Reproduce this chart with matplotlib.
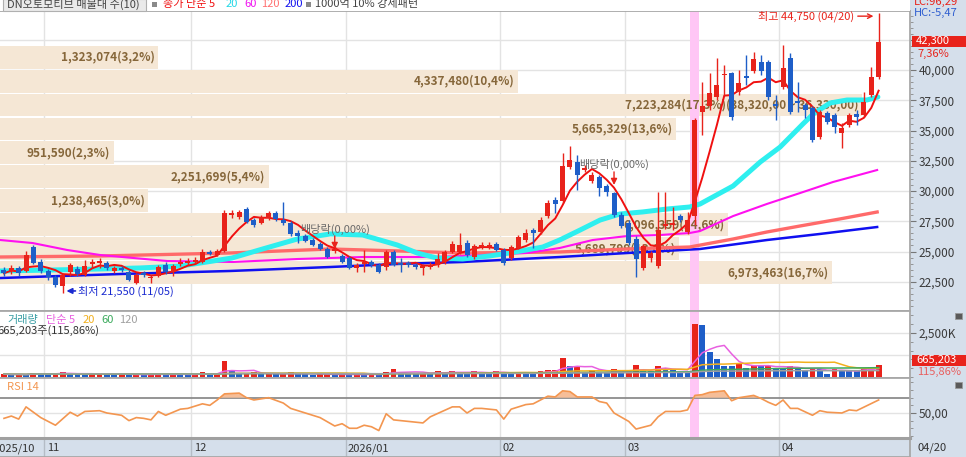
import matplotlib
matplotlib.use("Agg")
import matplotlib.pyplot as plt
from matplotlib.patches import Rectangle
from matplotlib.ticker import MultipleLocator
import numpy as np
import pandas as pd

plt.rcParams['font.family'] = ['Noto Sans CJK KR', 'DejaVu Sans']
plt.rcParams['axes.unicode_minus'] = False

# ---- daily candles (index 0 = 2025-10-24 ... 119 = 2026-04-20) ----
opens = [
    23450, 23400, 23650, 23400, 25350, 24150, 23400, 22900, 22150, 23300,
    23550, 23050, 23950, 24050, 24050, 23400, 23650, 23300, 22400, 23200,
    22800, 22950, 23900, 23300, 23950, 24050, 24150, 24150, 24950, 24700,
    25050, 28000, 27850, 28500, 27600, 27350, 27750, 28200, 27600, 27350,
    26550, 26300, 25950, 25600, 25200, 25050, 24650, 24450, 23650, 23950,
    24150, 23900, 23700, 24950, 24050, 24050, 23900, 23650, 23700, 23900,
    24150, 24950, 24950, 25700, 24550, 25350, 25350, 25600, 25100, 24450,
    25300, 25950, 26800, 26600, 27950, 29250, 29150, 32000, 32400, 31750,
    30850, 31150, 30400, 29850, 28000, 27350, 26050, 23650, 24450, 23800,
    27100, 27200, 27950, 26600, 27950, 36550, 37050, 37750, 39600, 39750,
    38200, 39500, 39900, 40650, 40650, 37200, 38600, 41000, 37450, 37100,
    36850, 34450, 36450, 36300, 34800, 35450, 36350, 36300, 37950, 39400]
highs = [
    23700, 23900, 23800, 25050, 25550, 24400, 23550, 23050, 23200, 24050,
    23800, 24300, 24400, 24450, 24200, 23800, 23800, 23450, 23200, 23400,
    23050, 23900, 24150, 23950, 24450, 24450, 24550, 25200, 25150, 25200,
    28450, 28450, 28450, 28700, 27750, 28000, 28350, 28350, 29100, 27500,
    26800, 26450, 26100, 25800, 25350, 25450, 24800, 24650, 24050, 25100,
    24300, 24050, 25100, 25100, 24450, 24200, 24050, 23950, 24150, 24900,
    25100, 25850, 26550, 25950, 25600, 25800, 25800, 25800, 25300, 25550,
    26350, 26850, 26950, 27850, 29250, 29500, 33150, 33700, 33000, 32150,
    31550, 31300, 30600, 29950, 28250, 27600, 26300, 25600, 25050, 29900,
    29900, 28700, 28100, 28250, 36050, 39000, 39750, 41000, 40400, 39850,
    40000, 41250, 41500, 41250, 40850, 37950, 42050, 41400, 39000, 37250,
    37000, 36700, 36600, 36450, 35600, 36450, 36700, 38200, 40250, 44750]
lows = [
    22950, 23150, 22950, 23300, 23950, 23200, 22650, 22050, 21550, 22950,
    22950, 22950, 23650, 23650, 23450, 23200, 23300, 22550, 22300, 22900,
    22400, 22900, 23150, 22950, 23800, 23900, 23950, 24050, 24700, 24650,
    24950, 27750, 27700, 27350, 27050, 27250, 27600, 27500, 27200, 26300,
    25700, 25800, 25450, 25100, 24450, 24900, 24050, 23550, 23300, 23300,
    23700, 23200, 23450, 23800, 23300, 23700, 23550, 23050, 23550, 23700,
    23950, 24900, 24800, 24550, 24400, 25200, 25200, 25050, 23900, 24300,
    25200, 25800, 25300, 26450, 27750, 28200, 29000, 31800, 30100, 31550,
    30650, 29600, 29600, 27850, 26950, 25550, 22900, 23450, 24150, 23650,
    26850, 26800, 27450, 26450, 27200, 34650, 36700, 37500, 37950, 35850,
    37950, 38750, 39750, 39600, 37500, 35850, 38450, 36350, 36550, 36050,
    34050, 34300, 35550, 34800, 33550, 35300, 35450, 36100, 37750, 39250]
closes = [
    23200, 23650, 23200, 24700, 24050, 23400, 22900, 22250, 23050, 23900,
    23150, 23800, 24150, 24200, 23650, 23650, 23450, 22650, 23050, 23050,
    22900, 23700, 23300, 23800, 24150, 24200, 24300, 24950, 24800, 25050,
    28200, 28200, 28250, 27450, 27200, 27850, 28200, 27700, 27350, 26450,
    26300, 25850, 25550, 25200, 24550, 25200, 24150, 23650, 23900, 24150,
    23900, 23300, 24950, 23900, 23900, 23900, 23700, 23800, 23900, 24400,
    24950, 25600, 25550, 24700, 25450, 25550, 25550, 25100, 24050, 25350,
    26200, 26550, 26550, 27600, 29000, 28950, 32050, 32550, 31300, 31900,
    31300, 30250, 29900, 28000, 27100, 25700, 24400, 25450, 24900, 26800,
    27250, 27350, 27600, 27600, 35850, 37050, 38100, 38750, 39650, 36100,
    38950, 39350, 40900, 39900, 37750, 37050, 40150, 36550, 37250, 36700,
    34200, 36550, 35700, 35300, 35200, 36300, 36100, 37350, 39400, 42300]
volumes = [
    160000, 140000, 150000, 130000, 230000, 220000, 150000, 170000, 280000, 200000,
    150000, 140000, 160000, 230000, 150000, 130000, 140000, 130000, 160000, 130000,
    150000, 170000, 130000, 160000, 150000, 130000, 160000, 280000, 150000, 180000,
    890000, 330000, 190000, 200000, 280000, 170000, 190000, 150000, 160000, 270000,
    180000, 160000, 140000, 150000, 160000, 130000, 150000, 120000, 150000, 140000,
    160000, 130000, 300000, 480000, 250000, 220000, 200000, 240000, 210000, 320000,
    220000, 330000, 240000, 210000, 330000, 230000, 220000, 360000, 190000, 180000,
    260000, 230000, 220000, 360000, 370000, 380000, 1080000, 600000, 610000, 260000,
    420000, 270000, 260000, 450000, 270000, 280000, 700000, 360000, 350000, 610000,
    510000, 420000, 270000, 230000, 3010000, 2940000, 1400000, 1020000, 610000, 600000,
    800000, 510000, 700000, 610000, 620000, 510000, 500000, 610000, 510000, 320000,
    470000, 450000, 190000, 450000, 360000, 350000, 340000, 470000, 574143, 665203]

# month starts (candle index) and labels
month_idx = [6, 26, 47, 68, 85, 106]
month_lbl = ['11', '12', '2026/01', '02', '03', '04']

# moving averages (index, price)
ma20_i = [-0.5, 6.3, 13, 18.5, 24, 26.7, 31, 35.2, 39.9, 44.4, 48.8, 53.5, 56.2, 58.9, 62.4,
          66, 68.8, 73.3, 75.6, 78.4, 81.1, 83.8, 86.9, 90.2, 93.3, 94.7, 99.2, 102.9, 105.6,
          108.7, 110.1, 112.4, 114.7, 117.4, 118.9]
ma20_v = [23390, 23470, 23555, 23640, 23800, 24050, 24460, 25210, 26030, 26450, 26365, 25540,
          24880, 24460, 24380, 24630, 24880, 25370, 25950, 26780, 27600, 28100, 28270, 28510,
          28680, 28925, 30415, 32400, 33635, 35540, 36365, 37275, 37520, 37520, 37770]
ma60_i = [-0.5, 3.9, 8.6, 13.1, 17.6, 22.2, 31.2, 39.9, 48.8, 58, 62.4, 71.2, 75.6, 80.1,
          84.8, 89.3, 93.3, 94.7, 99.2, 103.8, 108.3, 112.8, 118.8]
ma60_v = [25950, 25700, 25125, 24710, 24465, 24215, 24135, 24380, 24545, 24545, 24630, 24880,
          25290, 25950, 26280, 26365, 26530, 26690, 27930, 28930, 29830, 30745, 31735]
ma120_i = [-0.5, 13.1, 30.7, 44.4, 53.9, 62.4, 75.6, 84.8, 93.3, 99.2, 103.8, 108.3, 113.7, 118.8]
ma120_v = [24547, 24630, 24877, 25208, 25042, 24877, 24960, 25208, 25373, 26034, 26613, 27108,
           27687, 28265]
ma200_i = [-0.5, 15.8, 30.7, 44.4, 53.5, 62.4, 75.6, 84.8, 94.7, 103.8, 111, 118.8]
ma200_v = [22810, 23140, 23390, 23720, 23970, 24135, 24545, 24877, 25208, 25950, 26450, 27025]

# RSI 14
rsi_i = [0, 1, 2, 3, 5, 7, 9, 10, 11, 13, 14, 16, 17, 18, 19, 20, 21, 22, 24, 25, 27, 28, 29,
         30, 32, 33, 34, 36, 38, 39, 40, 43, 45, 46, 47, 48, 49, 50, 51, 52, 53, 54, 57, 58,
         61, 62, 63, 64, 65, 67, 68, 69, 71, 72, 74, 75, 76, 77, 78, 80, 81, 82, 83, 85, 86,
         88, 89, 90, 92, 93, 94, 95, 96, 98, 99, 100, 102, 103, 104, 105, 106, 107, 108, 110,
         111, 112, 114, 115, 116, 119]
rsi_v = [43, 46, 42, 58, 44, 34, 51, 46, 52, 53, 50, 47, 40, 44, 43, 41, 52, 47, 55, 56, 62, 60,
         67, 75, 76, 70, 67, 70, 63, 56, 53, 44, 33, 36, 30, 30, 34, 32, 27, 49, 41, 40, 37, 45,
         58, 58, 50, 56, 56, 54, 42, 55, 61, 62, 72, 71, 79, 78, 71, 71, 65, 63, 50, 39, 29, 34,
         45, 52, 52, 54, 73, 74, 77, 79, 66, 70, 73, 69, 64, 60, 67, 56, 56, 47, 53, 51, 50, 54,
         53, 67]

# volume profile (매물대), top band first
vp_vol = [1323074, 4337480, 7223284, 5665329, 951590, 2251699, 1238465, 6096359, 5689799, 6973463]
vp_top = 42050
vp_step = 1978
vp_range = (38320, 36330)

# ex-dividend markers
exdiv_idx = [45, 83]
exdiv_tip = [25210, 30500]
exdiv_lbl_y = [26860, 32230]

last_pct = 7.36
lc, hc = 96.29, -5.47

UP = '#E8231B'
DN = '#1E5EC8'
PANEL = '#D5DFEB'
GRID = '#E3E3E3'

W, H = 966, 457
fig = plt.figure(figsize=(W / 100, H / 100), dpi=100, facecolor=PANEL)


def box(x0, y0, x1, y1):
    return [x0 / W, 1 - y1 / H, (x1 - x0) / W, (y1 - y0) / H]


def fxy(x, y):
    return x / W, 1 - y / H


ax = fig.add_axes(box(0, 11, 910, 311))
axv = fig.add_axes(box(0, 311, 910, 378))
axr = fig.add_axes(box(0, 378, 910, 438))
axd = fig.add_axes(box(0, 438, 910, 457))

n = len(closes)
idx = np.arange(n)
x_lo, x_hi = -0.544, 123.27
for a in (ax, axv, axr, axd):
    a.set_xlim(x_lo, x_hi)
    a.set_facecolor('white')
    for s in a.spines.values():
        s.set_color('#A8A8A8')
        s.set_linewidth(1.3)
    a.spines['left'].set_visible(False)
    a.tick_params(axis='x', bottom=False, labelbottom=False)
    for m in month_idx:
        a.axvline(m - 0.5, color=GRID if a is not axd else '#B4BCC6', lw=1, zorder=0)

# ---------- price panel ----------
ax.set_ylim(20084, 44876)
pticks = np.arange(22500, 42501, 2500)
for yv in pticks:
    ax.axhline(yv, color=GRID, lw=1, zorder=0)
ax.yaxis.tick_right()
ax.set_yticks(pticks)
# top tick label sits under the last-price box, as in the source chart
ax.set_yticklabels([f'{int(v):,}' if v < 42000 else '' for v in pticks])
ax.yaxis.set_minor_locator(MultipleLocator(500))
ax.tick_params(axis='y', which='major', direction='out', length=4, pad=2,
               labelsize=8.5, color='#777', labelcolor='#3A3A3A')
ax.tick_params(axis='y', which='minor', direction='out', length=2, color='#888')

# volume profile bands
vp_len = np.array(vp_vol) / max(vp_vol) * 117.3
vp_tot = sum(vp_vol)
kmax = int(np.argmax(vp_vol))
for k, v in enumerate(vp_vol):
    yc = vp_top - vp_step * (k + 0.5)
    ax.barh(yc, vp_len[k], left=x_lo, height=vp_step * 0.955, color='#F5E7D5', zorder=1)
    lbl = f'{v:,}({v / vp_tot * 100:.1f}%)'.replace('.', ',')
    if k == kmax:
        lbl += f'({vp_range[0]:,},00 ~ {vp_range[1]:,},00)'
    ax.text(x_lo + vp_len[k] - 0.45, yc, lbl, ha='right', va='center', fontsize=8.5,
            fontweight='bold', color='#86673A', zorder=2)

for a in (ax, axv, axr):
    a.axvspan(93.4, 94.6, color='#FFC6F5', zorder=1.5, lw=0)

# moving averages
ma5 = pd.Series(closes).rolling(5, min_periods=1).mean()
ax.plot(ma200_i, ma200_v, color='#1010F0', lw=1.8, zorder=3)
ax.plot(ma120_i, ma120_v, color='#FF6A6A', lw=2.4, zorder=3)
ax.plot(ma60_i, ma60_v, color='#FF10F0', lw=1.5, zorder=3)
ax.plot(ma20_i, ma20_v, color='#2EEFEF', lw=3.6, zorder=3, solid_capstyle='round')
ax.plot(idx, ma5, color='#F01010', lw=1.4, zorder=3)

# candles
o = np.array(opens); c = np.array(closes); hi = np.array(highs); lo = np.array(lows)
cols = np.where(c >= o, UP, DN)
ax.vlines(idx, lo, hi, colors=cols, lw=1, zorder=5)
ax.bar(idx, np.maximum(np.abs(c - o), 60), bottom=np.minimum(o, c), width=0.68,
       color=cols, lw=0, zorder=6)

# ex-dividend markers
for i, tip, ly in zip(exdiv_idx, exdiv_tip, exdiv_lbl_y):
    ax.annotate('', xy=(i, tip), xytext=(i, tip + 1080),
                arrowprops=dict(arrowstyle='-|>', color=UP, lw=1, mutation_scale=9,
                                shrinkA=0, shrinkB=0), zorder=7)
    ax.text(i, ly, '배당락(0,00%)', ha='center', va='center', fontsize=8, color='#6A6A6A', zorder=7)

# high / low notes
imax = int(np.argmax(highs)); imin = int(np.argmin(lows))
ax.annotate(f'최고 {max(highs):,} (04/20)', xy=(imax - 0.7, max(highs) - 300),
            xytext=(imax - 3.4, max(highs) - 300), ha='right', va='center', fontsize=8,
            color=UP, arrowprops=dict(arrowstyle='->', color=UP, lw=1, shrinkA=1, shrinkB=0),
            zorder=8)
ax.annotate(f'최저 {min(lows):,} (11/05)', xy=(imin + 0.5, min(lows) + 190),
            xytext=(imin + 2.1, min(lows) + 190), ha='left', va='center', fontsize=8,
            color='#1A2AD0', arrowprops=dict(arrowstyle='-|>', color='#1A2AD0', lw=1.2,
                                             mutation_scale=8, shrinkA=0, shrinkB=0),
            zorder=8)

# ---------- volume panel ----------
axv.set_ylim(-57000, 3750000)
for yv in (1250000, 2500000):
    axv.axhline(yv, color=GRID, lw=1, zorder=0)
vol = np.array(volumes)
vcols = [UP] + [UP if vol[k] >= vol[k - 1] else DN for k in range(1, n)]
axv.bar(idx, vol, width=0.8, color=vcols, lw=0, zorder=3)
for w, col in zip([5, 20, 60, 120], ['#E860E0', '#F2B01E', '#3BAA5C', '#A0A0A0']):
    axv.plot(idx, pd.Series(vol).rolling(w, min_periods=1).mean(), color=col, lw=1.1, zorder=4)
axv.yaxis.tick_right()
axv.set_yticks([2500000])
axv.set_yticklabels(['2,500K'])
axv.yaxis.set_minor_locator(MultipleLocator(500000))
axv.tick_params(axis='y', which='major', direction='out', length=4, pad=2,
                labelsize=8.5, color='#777', labelcolor='#3A3A3A')
axv.tick_params(axis='y', which='minor', direction='out', length=2, color='#888')

# ---------- RSI panel ----------
axr.set_ylim(17.3, 95.75)
axr.axhline(50, color=GRID, lw=1, zorder=0)
axr.axhline(70, color='#8C8C8C', lw=1.3, zorder=2)
rv = np.array(rsi_v, dtype=float)
axr.fill_between(rsi_i, 70, rv, where=rv > 70, interpolate=True, color='#F6BE98', lw=0, zorder=2.5)
axr.plot(rsi_i, rv, color='#F39650', lw=1.2, zorder=3)
axr.yaxis.tick_right()
axr.set_yticks([50])
axr.set_yticklabels(['50,00'])
axr.yaxis.set_minor_locator(MultipleLocator(10))
axr.tick_params(axis='y', which='major', direction='out', length=4, pad=2,
                labelsize=8.5, color='#777', labelcolor='#3A3A3A')
axr.tick_params(axis='y', which='minor', direction='out', length=2, color='#888')

# ---------- date strip ----------
axd.set_facecolor(PANEL)
axd.set_ylim(0, 1)
axd.set_yticks([])
axd.spines['top'].set_color('#A0A0A0')
axd.spines['top'].set_linewidth(2.2)
for m, lb in zip(month_idx, month_lbl):
    axd.text(m - 0.5 + 0.3, 0.45, lb, ha='left', va='center', fontsize=8, color='#333')
axd.text(-1.4, 0.45, '2025/10', ha='left', va='center', fontsize=8, color='#333')

# ---------- header / side texts ----------
fig.patches.append(Rectangle(fxy(0, 11), 910 / W, 11 / H, transform=fig.transFigure,
                             facecolor='white', edgecolor='none', zorder=0.5))
fig.patches.append(Rectangle(fxy(3, 11), 143 / W, 12 / H, transform=fig.transFigure,
                             facecolor='#EAEAEA', edgecolor='#B0B0B0', lw=0.8, zorder=1))
for xx in (152, 306):
    fig.patches.append(Rectangle(fxy(xx, 7), 5 / W, 5 / H, transform=fig.transFigure,
                                 facecolor='#8A8A8A', edgecolor='none', zorder=1))
hdr = [(7, 'DN오토모티브 매물대 수(10)', '#444'), (163, '종가 단순 5', '#F01010'),
       (226, '20', '#22D8E6'), (244, '60', '#F010F0'), (261, '120', '#FF7070'),
       (285, '200', '#1010F0'), (315, '1000억 10% 강세패턴', '#444')]
for xx, t, col in hdr:
    fig.text(*fxy(xx, 4), t, ha='left', va='center', fontsize=8, color=col)

vhdr = [(7, '거래량', '#3A9EA5'), (46, '단순 5', '#E860E0'), (83, '20', '#F2B01E'),
        (101, '60', '#3BAA5C'), (119, '120', '#A0A0A0')]
for xx, t, col in vhdr:
    fig.text(*fxy(xx, 320), t, ha='left', va='center', fontsize=8, color=col)
fig.text(*fxy(-3, 331), f'{volumes[-1]:,}주({volumes[-1] / volumes[-2] * 100:.2f}%)'.replace('.', ','),
         ha='left', va='center', fontsize=8, color='#333')
fig.text(*fxy(7, 387), 'RSI 14', ha='left', va='center', fontsize=8, color='#F39650')

# right side value boxes
fig.text(*fxy(914, 2), f'LC:{lc:.2f}'.replace('.', ','), ha='left', va='center', fontsize=8, color=UP)
fig.text(*fxy(914, 12.5), f'HC:{hc:.2f}'.replace('.', ','), ha='left', va='center', fontsize=8, color='#2F5FD0')
fig.patches.append(Rectangle(fxy(912, 47), 54 / W, 11 / H, transform=fig.transFigure,
                             facecolor=UP, edgecolor='none', zorder=2))
fig.text(*fxy(916, 41.2), f'{closes[-1]:,}', ha='left', va='center', fontsize=8, color='white', zorder=3)
fig.text(*fxy(917, 53.5), f'{last_pct:.2f}%'.replace('.', ','), ha='left', va='center', fontsize=8, color=UP)
fig.patches.append(Rectangle(fxy(912, 366), 54 / W, 11 / H, transform=fig.transFigure,
                             facecolor=UP, edgecolor='none', zorder=2))
fig.text(*fxy(916, 360.2), f'{volumes[-1]:,}', ha='left', va='center', fontsize=8, color='white', zorder=3)
fig.text(*fxy(917, 372), f'{volumes[-1] / volumes[-2] * 100:.2f}%'.replace('.', ','),
         ha='left', va='center', fontsize=8, color='#E86060')
fig.text(*fxy(917, 448), '04/20', ha='left', va='center', fontsize=8, color='#333')
for yy in (313, 382):
    fig.patches.append(Rectangle(fxy(955, yy + 6), 7 / W, 6 / H, transform=fig.transFigure,
                                 facecolor='#5A5A5A', edgecolor='#9A9A9A', lw=0.6, zorder=2))

fig.savefig('out.png', dpi=100, facecolor=PANEL)
